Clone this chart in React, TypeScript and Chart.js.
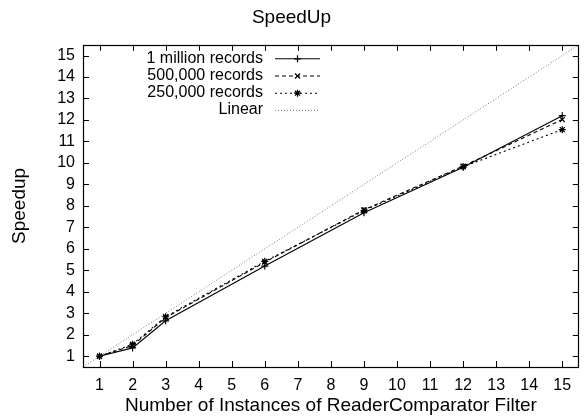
import React, { useEffect, useRef } from "react";
import { Chart, registerables } from "chart.js";
import { drawPoint } from "chart.js/helpers";

Chart.register(...registerables);

const instances = [1, 2, 3, 6, 9, 12, 15];
const oneMillion = [1.0, 1.39, 2.65, 5.2, 7.68, 9.8, 12.2];
const fiveHundredK = [1.0, 1.5, 2.8, 5.38, 7.82, 9.85, 12.02];
const twoFiftyK = [1.0, 1.56, 2.84, 5.42, 7.78, 9.82, 11.55];
const linearX = [0.5, 15.5];
const linearY = [0.5, 15.5];
const tickValues = [1, 2, 3, 4, 5, 6, 7, 8, 9, 10, 11, 12, 13, 14, 15];
const seriesNames = ["1 million records", "500,000 records", "250,000 records", "Linear"];

const FONT = "'Liberation Sans', Arial, Helvetica, sans-serif";

const framePlugin = {
  id: "frameTicks",
  afterDatasetsDraw(chart: any) {
    const { ctx, chartArea } = chart;
    const { left, right, top, bottom } = chartArea;
    const xs = chart.scales.x;
    const ys = chart.scales.y;
    const len = 6;
    ctx.save();
    ctx.strokeStyle = "#000";
    ctx.lineWidth = 1;
    ctx.setLineDash([]);
    ctx.beginPath();
    for (const v of tickValues) {
      const px = Math.round(xs.getPixelForValue(v)) + 0.5;
      ctx.moveTo(px, bottom);
      ctx.lineTo(px, bottom - len);
      ctx.moveTo(px, top);
      ctx.lineTo(px, top + len);
      const py = Math.round(ys.getPixelForValue(v)) + 0.5;
      ctx.moveTo(left, py);
      ctx.lineTo(left + len, py);
      ctx.moveTo(right, py);
      ctx.lineTo(right - len, py);
    }
    ctx.stroke();
    ctx.lineWidth = 1.2;
    ctx.strokeRect(Math.round(left) + 0.5, Math.round(top) + 0.5, Math.round(right - left) - 1, Math.round(bottom - top));
    ctx.restore();
  },
};

const legendPlugin = {
  id: "gnuLegend",
  afterDraw(chart: any) {
    const { ctx, chartArea } = chart;
    ctx.save();
    ctx.font = `16px ${FONT}`;
    ctx.textAlign = "right";
    ctx.textBaseline = "middle";
    chart.data.datasets.forEach((ds: any, i: number) => {
      const y = chartArea.top + 13.5 + i * 17.2;
      const textRight = chartArea.left + 180;
      ctx.fillStyle = "#000";
      ctx.fillText(ds.label, textRight, y);
      const x0 = chartArea.left + 192;
      const x1 = chartArea.left + 237;
      ctx.strokeStyle = ds.borderColor;
      ctx.lineWidth = ds.borderWidth;
      ctx.setLineDash(ds.borderDash || []);
      ctx.beginPath();
      ctx.moveTo(x0, y + 0.5);
      ctx.lineTo(x1, y + 0.5);
      ctx.stroke();
      ctx.setLineDash([]);
      if (ds.pointRadius > 0) {
        ctx.strokeStyle = ds.pointBorderColor;
        ctx.fillStyle = ds.pointBackgroundColor;
        ctx.lineWidth = ds.pointBorderWidth;
        drawPoint(ctx, { pointStyle: ds.pointStyle, radius: ds.pointRadius, borderWidth: ds.pointBorderWidth, rotation: 0 }, (x0 + x1) / 2, y + 0.5);
      }
    });
    ctx.restore();
  },
};

function toPoints(xs: number[], ys: number[]) {
  return xs.map((x, i) => ({ x, y: ys[i] }));
}

export default function App() {
  const ref = useRef<HTMLCanvasElement>(null);
  useEffect(() => {
    if (!ref.current) return;
    const mk = (label: string, data: number[], dash: number[], style: string) => ({
      label,
      data: toPoints(instances, data),
      borderColor: "#000",
      backgroundColor: "#000",
      borderWidth: 1.1,
      borderDash: dash,
      pointStyle: style,
      pointRadius: 3.5,
      pointBorderColor: "#000",
      pointBackgroundColor: "#000",
      pointBorderWidth: 1.2,
      tension: 0,
    });
    const chart = new Chart(ref.current, {
      type: "line",
      data: {
        datasets: [
          mk(seriesNames[0], oneMillion, [], "cross"),
          mk(seriesNames[1], fiveHundredK, [4, 3], "crossRot"),
          mk(seriesNames[2], twoFiftyK, [2, 3], "star"),
          {
            label: seriesNames[3],
            data: toPoints(linearX, linearY),
            borderColor: "#777",
            backgroundColor: "#777",
            borderWidth: 1,
            borderDash: [1, 2],
            pointRadius: 0,
            tension: 0,
          } as any,
        ],
      },
      options: {
        animation: false,
        responsive: false,
        layout: { padding: { left: 0, right: 1, top: 0, bottom: 0 } },
        plugins: {
          legend: { display: false },
          tooltip: { enabled: false },
          title: {
            display: true,
            text: "SpeedUp",
            color: "#000",
            font: { family: FONT, size: 19, weight: "normal" },
            padding: { top: 6, bottom: 16 },
          },
        },
        scales: {
          x: {
            type: "linear",
            min: 0.5,
            max: 15.5,
            afterBuildTicks: (s: any) => {
              s.ticks = tickValues.map((v) => ({ value: v }));
            },
            afterFit: (s: any) => {
              s.height = 50;
            },
            grid: { display: false, drawTicks: false },
            border: { display: false },
            ticks: {
              color: "#000",
              padding: 9,
              autoSkip: false,
              maxRotation: 0,
              font: { family: FONT, size: 16 },
            },
            title: {
              display: true,
              text: "Number of Instances of ReaderComparator Filter",
              color: "#000",
              font: { family: FONT, size: 19 },
              padding: 0,
            },
          },
          y: {
            type: "linear",
            min: 0.5,
            max: 15.5,
            afterBuildTicks: (s: any) => {
              s.ticks = tickValues.map((v) => ({ value: v }));
            },
            afterFit: (s: any) => {
              s.width = 83;
            },
            grid: { display: false, drawTicks: false },
            border: { display: false },
            ticks: {
              color: "#000",
              padding: 8,
              autoSkip: false,
              font: { family: FONT, size: 16 },
            },
            title: {
              display: true,
              text: "Speedup",
              color: "#000",
              font: { family: FONT, size: 19 },
              padding: 8,
            },
          },
        },
      },
      plugins: [framePlugin, legendPlugin],
    });
    return () => chart.destroy();
  }, []);
  return (
    <div style={{ position: "absolute", left: 0, top: 0, width: 584, height: 417, background: "#fff" }}>
      <canvas ref={ref} width={584} height={417} style={{ width: 584, height: 417, display: "block" }} />
    </div>
  );
}
